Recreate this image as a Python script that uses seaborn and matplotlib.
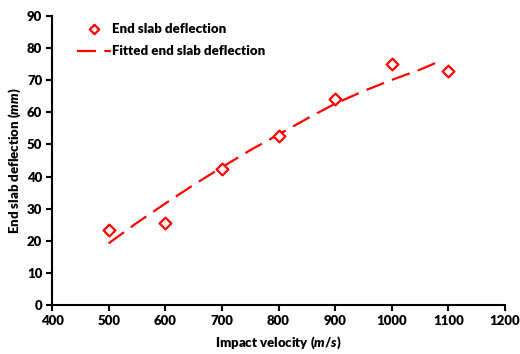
import matplotlib
matplotlib.use("Agg")
import matplotlib.pyplot as plt
import seaborn as sns
import pandas as pd

# Data
velocity = [500, 600, 700, 800, 900, 1000, 1100]
deflection = [23.5, 25.5, 42.5, 52.5, 64.0, 75.0, 73.0]
fit_velocity = [500, 550, 600, 650, 700, 750, 800, 850, 900, 950, 1000, 1050, 1087]
fit_deflection = [19.2, 25.6, 31.6, 37.4, 42.9, 48.2, 53.1, 58.0, 62.7, 66.6, 70.1, 73.3, 76.1]
x_ticks = [400, 500, 600, 700, 800, 900, 1000, 1100, 1200]
y_ticks = [0, 10, 20, 30, 40, 50, 60, 70, 80, 90]

sns.set_theme(style="white")
plt.rcParams['font.family'] = ['Lato', 'DejaVu Sans']
W = 'heavy'
plt.rcParams['font.weight'] = W
plt.rcParams['mathtext.fontset'] = 'custom'
plt.rcParams['mathtext.it'] = 'Lato:italic:heavy'
plt.rcParams['mathtext.rm'] = 'Lato:heavy'
for k in ['text.color', 'axes.labelcolor', 'xtick.color', 'ytick.color']:
    plt.rcParams[k] = 'black'

FS = 9.5

df_pts = pd.DataFrame({"v": velocity, "d": deflection})
df_fit = pd.DataFrame({"v": fit_velocity, "d": fit_deflection})

fig = plt.figure(figsize=(5.2, 3.54), dpi=100)
ax = fig.add_axes([52/520, 1-305/354, (505-52)/520, (305-16)/354])

red = "#ff0000"
sns.lineplot(data=df_fit, x="v", y="d", ax=ax, color=red, lw=1.6,
             dashes=False, label="Fitted end slab deflection")
ax.lines[-1].set_dashes([8.5, 3.8])
sns.scatterplot(data=df_pts, x="v", y="d", ax=ax, marker="D", s=36,
                facecolor="white", edgecolor=red, linewidth=1.6,
                label="End slab deflection", zorder=3)

ax.set_xlim(400, 1200)
ax.set_ylim(0, 90)
ax.set_xticks(x_ticks)
ax.set_yticks(y_ticks)
for s in ["top", "right"]:
    ax.spines[s].set_visible(False)
for s in ["left", "bottom"]:
    ax.spines[s].set_color("black")
    ax.spines[s].set_linewidth(1.5)
ax.tick_params(axis="both", direction="out", length=4, width=1.5, color="black",
               labelcolor="black", labelsize=FS, pad=3, bottom=True, left=True)
for lbl in ax.get_xticklabels() + ax.get_yticklabels():
    lbl.set_fontweight(W)

ax.set_xlabel("Impact velocity ($\\mathit{m/s}$)", fontsize=FS, fontweight=W,
              labelpad=6, color="black")
ax.set_ylabel("End slab deflection ($\\mathit{mm}$)", fontsize=FS, fontweight=W,
              labelpad=3, color="black")

handles, labels = ax.get_legend_handles_labels()
order = [labels.index("End slab deflection"), labels.index("Fitted end slab deflection")]
leg = ax.legend([handles[i] for i in order], [labels[i] for i in order],
                loc="upper left", bbox_to_anchor=(0.028, 1.017), frameon=False,
                fontsize=FS, handlelength=2.6, handletextpad=0.1, labelspacing=0.78,
                markerscale=0.8)
for t in leg.get_texts():
    t.set_fontweight(W)
    t.set_color("black")

fig.savefig("out.png", dpi=100)
